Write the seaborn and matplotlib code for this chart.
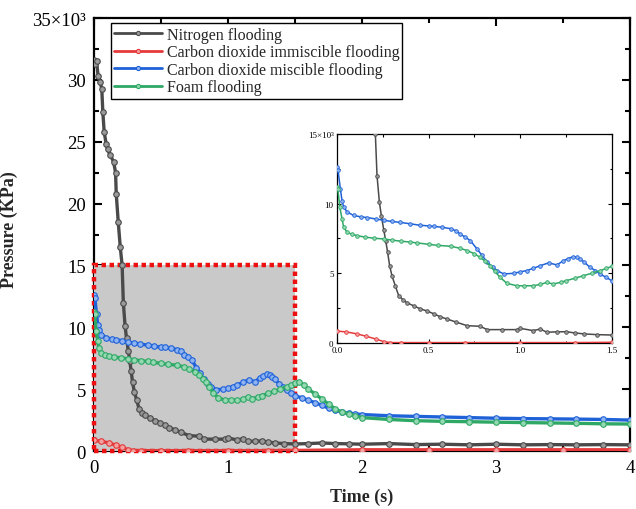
import numpy as np
import pandas as pd
import seaborn as sns
import matplotlib
matplotlib.use("Agg")
import matplotlib.pyplot as plt
from matplotlib.patches import Rectangle
from matplotlib.ticker import MultipleLocator, FixedLocator, FixedFormatter

# ---------------- data ----------------
series_names = ["Nitrogen flooding",
                "Carbon dioxide immiscible flooding",
                "Carbon dioxide miscible flooding",
                "Foam flooding"]

n2_time = [0, 0.01, 0.018, 0.03, 0.045, 0.057, 0.065, 0.075, 0.09, 0.1, 0.12, 0.145, 0.16,
           0.165, 0.18, 0.195, 0.209, 0.218, 0.231, 0.242, 0.255, 0.266, 0.276, 0.287, 0.30,
           0.318, 0.336, 0.36, 0.38, 0.42, 0.455, 0.49, 0.527, 0.56, 0.6, 0.65, 0.71, 0.78,
           0.82, 0.9, 0.98, 1.0, 1.07, 1.11, 1.145, 1.2, 1.25, 1.3, 1.35, 1.42, 1.5, 1.6,
           1.7, 1.8, 1.9, 2.0, 2.2, 2.4, 2.6, 2.8, 3.0, 3.2, 3.4, 3.6, 3.8, 4.0]
n2_p = [31.6, 31.3, 31.5, 30.3, 29.8, 29.3, 27.4, 25.8, 24.8, 24.4, 23.9, 23.4, 22.5,
        20.8, 18.5, 16.5, 15.0, 12.0, 10.1, 9.1, 8.1, 7.3, 6.5, 5.55, 4.8,
        4.1, 3.4, 3.1, 2.9, 2.65, 2.45, 2.3, 2.1, 1.9, 1.72, 1.5, 1.24, 1.2,
        0.96, 0.96, 0.96, 1.05, 0.89, 1.0, 0.77, 0.8, 0.81, 0.72, 0.65, 0.6, 0.57, 0.6,
        0.65, 0.6, 0.58, 0.55, 0.6, 0.52, 0.55, 0.5, 0.55, 0.5, 0.52, 0.5, 0.52, 0.5]

co2i_time = [0, 0.05, 0.11, 0.16, 0.21, 0.255, 0.29, 0.35, 0.5, 0.7, 1.0, 1.3, 1.5,
             2.0, 2.5, 3.0, 3.5, 4.0]
co2i_p = [0.85, 0.8, 0.65, 0.48, 0.29, 0.1, 0.03, 0.03, 0.03, 0.03, 0.03, 0.03, 0.05,
          0.1, 0.1, 0.1, 0.1, 0.1]

co2m_time = [0, 0.005, 0.018, 0.027, 0.036, 0.055, 0.09, 0.13, 0.164, 0.21, 0.255, 0.3,
             0.345, 0.4, 0.45, 0.5, 0.527, 0.575, 0.62, 0.65, 0.673, 0.7, 0.727, 0.764,
             0.79, 0.82, 0.85, 0.873, 0.91, 0.964, 1.0, 1.036, 1.07, 1.11, 1.155, 1.2,
             1.236, 1.26, 1.29, 1.31, 1.327, 1.35, 1.38, 1.41, 1.436, 1.47, 1.5, 1.55,
             1.6, 1.65, 1.7, 1.75, 1.8, 1.85, 1.9, 1.95, 2.0, 2.2, 2.4, 2.6, 2.8, 3.0,
             3.2, 3.4, 3.6, 3.8, 4.0]
co2m_p = [12.6, 12.4, 11.05, 10.2, 9.75, 9.4, 9.15, 9.05, 9.0, 8.9, 8.8, 8.72,
          8.65, 8.55, 8.45, 8.4, 8.37, 8.3, 8.2, 8.05, 7.8, 7.6, 7.35, 6.75,
          6.3, 5.8, 5.45, 5.2, 4.95, 5.0, 5.1, 5.2, 5.35, 5.55, 5.75, 5.6,
          5.9, 6.05, 6.2, 6.15, 6.0, 5.8, 5.43, 5.2, 4.95, 4.7, 4.47, 4.3,
          4.1, 3.9, 3.7, 3.45, 3.3, 3.15, 3.05, 3.0, 2.95, 2.85, 2.8, 2.75, 2.7, 2.65,
          2.62, 2.6, 2.58, 2.55, 2.5]

foam_time = [0, 0.004, 0.015, 0.027, 0.036, 0.055, 0.08, 0.11, 0.15, 0.2, 0.255, 0.3,
             0.35, 0.4, 0.436, 0.5, 0.55, 0.62, 0.67, 0.71, 0.75, 0.78, 0.81, 0.836,
             0.86, 0.89, 0.927, 0.98, 1.02, 1.07, 1.11, 1.145, 1.18, 1.22, 1.25, 1.3,
             1.345, 1.39, 1.436, 1.47, 1.5, 1.53, 1.57, 1.6, 1.65, 1.7, 1.75, 1.8,
             1.85, 1.9, 1.95, 2.0, 2.2, 2.4, 2.6, 2.8, 3.0, 3.2, 3.4, 3.6, 3.8, 4.0]
foam_p = [11.2, 11.05, 9.74, 8.9, 8.3, 7.94, 7.8, 7.7, 7.6, 7.52, 7.46, 7.38,
          7.3, 7.24, 7.18, 7.08, 7.0, 6.94, 6.8, 6.63, 6.4, 6.15, 5.85, 5.55,
          5.15, 4.71, 4.28, 4.11, 4.1, 4.11, 4.2, 4.35, 4.23, 4.35, 4.47, 4.65,
          4.83, 5.0, 5.19, 5.35, 5.5, 5.6, 5.3, 5.0, 4.6, 4.2, 3.8, 3.4,
          3.15, 3.0, 2.85, 2.7, 2.55, 2.45, 2.4, 2.37, 2.33, 2.3, 2.27, 2.24, 2.2, 2.18]

main_yticks = [0, 5, 10, 15, 20, 25, 30, 35]
main_yticklabels = ["0", "5", "10", "15", "20", "25", "30", "35×10³"]
main_xticks = [0, 1, 2, 3, 4]
inset_xticks = [0.0, 0.5, 1.0, 1.5]
inset_xticklabels = ["0.0", "0.5", "1.0", "1.5"]
inset_yticks = [0, 5, 10, 15]
inset_yticklabels = ["0", "5", "10", "15×10³"]

frames = []
for name, t, p in zip(series_names,
                      [n2_time, co2i_time, co2m_time, foam_time],
                      [n2_p, co2i_p, co2m_p, foam_p]):
    frames.append(pd.DataFrame({"series": name, "time": t, "pressure": p}))
df = pd.concat(frames, ignore_index=True)

colors = {"Nitrogen flooding": "#4a4a4a",
          "Carbon dioxide immiscible flooding": "#e5393a",
          "Carbon dioxide miscible flooding": "#1f62d8",
          "Foam flooding": "#2fa866"}
faces = {"Nitrogen flooding": "#9a9a9a",
         "Carbon dioxide immiscible flooding": "#f2a0a0",
         "Carbon dioxide miscible flooding": "#8fb3f0",
         "Foam flooding": "#95d8b2"}

# ---------------- figure ----------------
sns.set_theme(style="ticks")
plt.rcParams['font.family'] = ['Liberation Serif', 'DejaVu Serif']

fig = plt.figure(figsize=(6.36, 5.10), dpi=100)
ax = fig.add_axes([0.148, 0.1137, 0.8426, 0.849])

def draw(axis, ms, lw, mew, legend):
    for name in series_names:
        sub = df[df["series"] == name]
        sns.lineplot(data=sub, x="time", y="pressure", ax=axis, color=colors[name],
                     marker="o", markersize=ms, markerfacecolor=faces[name],
                     markeredgecolor=colors[name], markeredgewidth=mew, lw=lw,
                     sort=False, estimator=None, label=name if legend else None,
                     zorder=3)

draw(ax, 4.0, 2.4, 0.8, True)

ax.set_xlim(main_xticks[0], main_xticks[-1])
ax.set_ylim(main_yticks[0], main_yticks[-1])

# highlighted zoom region (matches inset limits)
rect = Rectangle((inset_xticks[0], inset_yticks[0]),
                 inset_xticks[-1] - inset_xticks[0], inset_yticks[-1] - inset_yticks[0],
                 facecolor="#c9c9c9", edgecolor="#ee1111", lw=3.2,
                 linestyle=(0, (1, 0.8)), zorder=2.6, clip_on=False)
ax.add_patch(rect)

ax.yaxis.set_major_locator(FixedLocator(main_yticks))
ax.yaxis.set_major_formatter(FixedFormatter(main_yticklabels))
ax.xaxis.set_major_locator(FixedLocator(main_xticks))
ax.xaxis.set_minor_locator(MultipleLocator(0.5))
ax.yaxis.set_minor_locator(MultipleLocator(2.5))
ax.tick_params(which="both", direction="in", top=True, right=True, width=1.5,
               labelsize=13.5, colors="black")
ax.tick_params(which="major", length=6, pad=6)
ax.tick_params(which="minor", length=3.5)
for s in ax.spines.values():
    s.set_linewidth(1.6)
    s.set_color("black")
ax.set_xlabel("Time (s)", fontsize=13, fontweight="bold", labelpad=8)
ax.set_ylabel("Pressure (KPa)", fontsize=13, fontweight="bold")
ax.yaxis.set_label_coords(-0.142, 0.513)

leg = ax.legend(loc="upper left", bbox_to_anchor=(0.025, 0.995), fontsize=11.5,
                frameon=True, fancybox=False, edgecolor="black", framealpha=1,
                handlelength=3.0, handletextpad=0.3, borderpad=0.2,
                labelspacing=0.1, borderaxespad=0.2)
leg.get_frame().set_linewidth(1.0)
for h in leg.legend_handles:
    h.set_markersize(3)
    h.set_linewidth(2.0)

# ---------------- inset ----------------
axin = fig.add_axes([0.530, 0.3255, 0.432, 0.41])
draw(axin, 2.6, 1.1, 0.6, False)
axin.set_xlim(inset_xticks[0], inset_xticks[-1])
axin.set_ylim(inset_yticks[0], inset_yticks[-1])
axin.xaxis.set_major_locator(FixedLocator(inset_xticks))
axin.xaxis.set_major_formatter(FixedFormatter(inset_xticklabels))
axin.yaxis.set_major_locator(FixedLocator(inset_yticks))
axin.yaxis.set_major_formatter(FixedFormatter(inset_yticklabels))
axin.xaxis.set_minor_locator(MultipleLocator(0.25))
axin.yaxis.set_minor_locator(MultipleLocator(2.5))
axin.tick_params(which="both", direction="in", top=True, right=True, width=0.8,
                 labelsize=6.5, colors="black", pad=2.5)
axin.tick_params(which="major", length=3)
axin.tick_params(which="minor", length=1.8)
for s in axin.spines.values():
    s.set_linewidth(0.9)
    s.set_color("black")
axin.set_xlabel("")
axin.set_ylabel("")

fig.savefig("out.png", dpi=100)
